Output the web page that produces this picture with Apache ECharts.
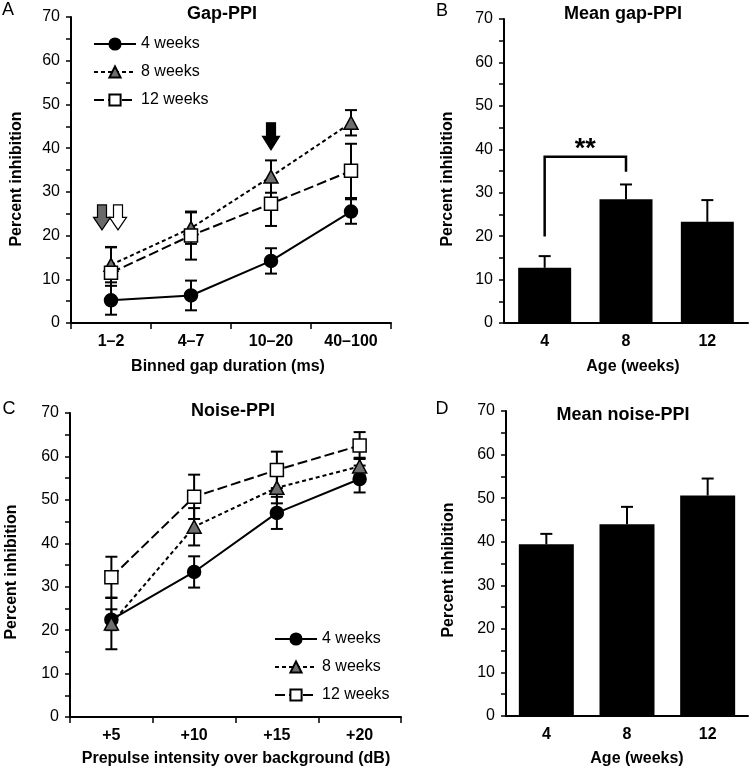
<!DOCTYPE html>
<html><head><meta charset="utf-8">
<script src="https://cdn.jsdelivr.net/npm/echarts@6/dist/echarts.min.js"></script>
<style>html,body{margin:0;padding:0;background:#fff}#c{width:752px;height:772px}</style>
</head><body><div id="c"></div>
<script>
// ---------- data ----------
const gapBins = ['1–2', '4–7', '10–20', '40–100'];
const noiseLevels = ['+5', '+10', '+15', '+20'];
const ages = ['4', '8', '12'];
const groupNames = ['4 weeks', '8 weeks', '12 weeks'];
const yTicks = [0, 10, 20, 30, 40, 50, 60, 70];

const gap4 = [5.2, 6.3, 14.2, 25.5];
const gap4Err = [3.3, 3.4, 2.9, 2.8];
const gap8 = [13.3, 21.7, 33.5, 45.8];
const gap8Err = [4.0, 3.6, 3.7, 2.9];
const gap12 = [11.5, 20.0, 27.3, 34.8];
const gap12Err = [5.9, 5.5, 5.1, 6.2];

const noise4 = [22.4, 33.4, 47.0, 54.8];
const noise4Err = [2.4, 3.6, 3.7, 3.1];
const noise8 = [21.5, 43.8, 52.8, 57.7];
const noise8Err = [5.9, 4.3, 3.6, 2.0];
const noise12 = [32.2, 50.7, 56.9, 62.5];
const noise12Err = [4.7, 5.1, 4.2, 3.1];

const meanGap = [12.7, 28.5, 23.3];
const meanGapErr = [2.7, 3.4, 5.0];
const meanNoise = [39.4, 44.0, 50.6];
const meanNoiseErr = [2.4, 4.0, 3.9];

// annotation arrows in panel A: bin index, top value, bottom value
const arrowBins = [0, 0, 2];
const arrowTop = [27.0, 27.0, 45.8];
const arrowBottom = [21.3, 21.3, 39.6];
// significance bracket in panel B: from bar, to bar, left foot, top, right foot
const sigFrom = 0, sigTo = 1;
const sigValues = [19.9, 38.3, 34.8];
const sigLabel = '**';

// ---------- styles ----------
const FONT = '"Liberation Sans", Arial, sans-serif';
const arrowStyles = [
  {fill: '#6a6a6a', dx: -9},
  {fill: '#ffffff', dx: 7},
  {fill: '#000000', dx: 0}
];
const groupStyles = [
  {symbol: 'circle', size: 13, fill: '#000', border: '#000', dash: 'solid'},
  {symbol: 'triangle', size: [14, 13], fill: '#6e6e6e', border: '#000', dash: [4, 3]},
  {symbol: 'rect', size: 13, fill: '#fff', border: '#000', dash: [10, 4]}
];

const grids = [
  {left: 71, top: 17, width: 320, height: 306},
  {left: 504, top: 19, width: 244, height: 304},
  {left: 70, top: 413, width: 331, height: 304},
  {left: 506, top: 411, width: 242, height: 305}
];

function yAxis(gi) {
  return {
    type: 'value', gridIndex: gi, min: yTicks[0], max: yTicks[yTicks.length - 1],
    interval: yTicks[1] - yTicks[0],
    axisLine: {show: true, lineStyle: {color: '#000', width: 2}},
    axisTick: {show: true, length: 5, lineStyle: {color: '#000', width: 1.5}},
    minorTick: {show: true, splitNumber: 2, length: 5, lineStyle: {color: '#000', width: 1.5}},
    splitLine: {show: false},
    axisLabel: {color: '#000', fontSize: 16, fontFamily: FONT, margin: 11}
  };
}
function xAxis(gi, cats, ticks) {
  return {
    type: 'category', gridIndex: gi, data: cats, boundaryGap: true,
    axisLine: {show: true, lineStyle: {color: '#000', width: 2}},
    axisTick: {show: ticks, length: 6, lineStyle: {color: '#000', width: 1.5}},
    axisLabel: {color: '#000', fontSize: 16, fontWeight: 'bold', fontFamily: FONT, margin: 11},
    splitLine: {show: false}
  };
}

function errRender(upOnly, cap) {
  return function (params, api) {
    const x = api.value(0), m = api.value(1), e = api.value(2);
    const t = api.coord([x, m + e]);
    const b = api.coord([x, upOnly ? m : m - e]);
    const st = {stroke: '#000', lineWidth: 2};
    const ch = [
      {type: 'line', shape: {x1: t[0], y1: t[1], x2: b[0], y2: b[1]}, style: st},
      {type: 'line', shape: {x1: t[0] - cap / 2, y1: t[1], x2: t[0] + cap / 2, y2: t[1]}, style: st}
    ];
    if (!upOnly) ch.push({type: 'line', shape: {x1: b[0] - cap / 2, y1: b[1], x2: b[0] + cap / 2, y2: b[1]}, style: st});
    return {type: 'group', children: ch};
  };
}

function errSeries(gi, means, errs, upOnly, cap, z) {
  return {
    type: 'custom', xAxisIndex: gi, yAxisIndex: gi, z: z, silent: true,
    renderItem: errRender(upOnly, cap),
    encode: {x: 0, y: 1},
    data: means.map((m, i) => [i, m, errs[i]])
  };
}

function lineSeries(gi, gIdx, means) {
  const s = groupStyles[gIdx];
  return {
    type: 'line', name: groupNames[gIdx], xAxisIndex: gi, yAxisIndex: gi, z: 5,
    data: means, symbol: s.symbol, symbolSize: s.size, showSymbol: true,
    lineStyle: {color: '#000', width: 2, type: s.dash},
    itemStyle: {color: s.fill, borderColor: s.border, borderWidth: 1.5, opacity: 1},
    emphasis: {disabled: true}
  };
}

const series = [];
[gap4, gap8, gap12].forEach((d, k) => {
  series.push(errSeries(0, d, [gap4Err, gap8Err, gap12Err][k], false, 12, 3));
  series.push(lineSeries(0, k, d));
});
[noise4, noise8, noise12].forEach((d, k) => {
  series.push(errSeries(2, d, [noise4Err, noise8Err, noise12Err][k], false, 12, 3));
  const ls = lineSeries(2, k, d);
  ls.name = groupNames[k] + ' ';
  series.push(ls);
});
// bars
series.push({type: 'bar', xAxisIndex: 1, yAxisIndex: 1, data: meanGap, barWidth: 53,
  itemStyle: {color: '#000'}, z: 2, emphasis: {disabled: true}});
series.push(errSeries(1, meanGap, meanGapErr, true, 12, 3));
series.push({type: 'bar', xAxisIndex: 3, yAxisIndex: 3, data: meanNoise, barWidth: 55,
  itemStyle: {color: '#000'}, z: 2, emphasis: {disabled: true}});
series.push(errSeries(3, meanNoise, meanNoiseErr, true, 12, 3));

// arrows
series.push({
  type: 'custom', xAxisIndex: 0, yAxisIndex: 0, z: 6, silent: true,
  encode: {x: 0, y: 1},
  data: arrowBins.map((b, i) => [b, arrowTop[i], arrowBottom[i], i]),
  renderItem: function (params, api) {
    const i = api.value(3);
    const st = arrowStyles[i];
    const t = api.coord([api.value(0), api.value(1)]);
    const b = api.coord([api.value(0), api.value(2)]);
    const cx = t[0] + st.dx;
    const hw = 4.5, hh = 8.5;
    const yMid = t[1] + (b[1] - t[1]) * 0.5;
    return {
      type: 'polygon',
      shape: {points: [[cx - hw, t[1]], [cx + hw, t[1]], [cx + hw, yMid], [cx + hh, yMid], [cx, b[1]], [cx - hh, yMid], [cx - hw, yMid]]},
      style: {fill: st.fill, stroke: '#000', lineWidth: 1.2}
    };
  }
});
// significance bracket
series.push({
  type: 'custom', xAxisIndex: 1, yAxisIndex: 1, z: 6, silent: true,
  encode: {x: 0, y: 1},
  data: [[sigFrom, sigValues[0], sigTo, sigValues[1], sigValues[2]]],
  renderItem: function (params, api) {
    const p0 = api.coord([api.value(0), api.value(1)]);
    const p1 = api.coord([api.value(0), api.value(3)]);
    const p2 = api.coord([api.value(2), api.value(3)]);
    const p3 = api.coord([api.value(2), api.value(4)]);
    return {
      type: 'group', children: [
        {type: 'polyline', shape: {points: [p0, p1, p2, p3]}, style: {stroke: '#000', lineWidth: 2.5, fill: null}},
        {type: 'text', style: {text: sigLabel, x: (p1[0] + p2[0]) / 2, y: p1[1] - 7, align: 'center', verticalAlign: 'middle',
          font: 'bold 27px ' + FONT, fill: '#000'}}
      ]
    };
  }
});

function txt(text, x, y, size, bold, rot) {
  return {type: 'text', x: x, y: y, rotation: rot || 0,
    style: {text: text, align: 'center', verticalAlign: 'middle', font: (bold ? 'bold ' : '') + size + 'px ' + FONT, fill: '#000'}};
}

const option = {
  animation: false,
  backgroundColor: '#fff',
  grid: grids,
  xAxis: [xAxis(0, gapBins, true), xAxis(1, ages, false), xAxis(2, noiseLevels, true), xAxis(3, ages, false)],
  yAxis: [yAxis(0), yAxis(1), yAxis(2), yAxis(3)],
  legend: [
    {data: groupNames, orient: 'vertical', left: 93, top: 36, padding: 0, itemWidth: 42, itemHeight: 14, itemGap: 12,
      textStyle: {fontSize: 16, color: '#000', fontFamily: FONT}, selectedMode: false},
    {data: groupNames.map(n => n + ' '), orient: 'vertical', left: 274, top: 631, padding: 0, itemWidth: 42, itemHeight: 14, itemGap: 12,
      textStyle: {fontSize: 16, color: '#000', fontFamily: FONT}, selectedMode: false,
      formatter: n => n.trim()}
  ],
  series: series,
  graphic: [
    txt('A', 8, 10, 18, false), txt('B', 442, 11, 18, false), txt('C', 9, 409, 18, false), txt('D', 442, 409, 18, false),
    txt('Gap-PPI', 222, 14, 18, true), txt('Mean gap-PPI', 623, 14, 18, true),
    txt('Noise-PPI', 233, 411, 18, true), txt('Mean noise-PPI', 623, 415, 18, true),
    txt('Percent inhibition', 17, 179, 16, true, Math.PI / 2),
    txt('Percent inhibition', 448, 179, 16, true, Math.PI / 2),
    txt('Percent inhibition', 12, 572, 16, true, Math.PI / 2),
    txt('Percent inhibition', 449, 570, 16, true, Math.PI / 2),
    txt('Binned gap duration (ms)', 228, 367, 16, true),
    txt('Age (weeks)', 633, 367, 16, true),
    txt('Prepulse intensity over background (dB)', 236, 759, 16, true),
    txt('Age (weeks)', 637, 759, 16, true)
  ]
};
const chart = echarts.init(document.getElementById('c'), null, {renderer: 'canvas'});
chart.setOption(option);
</script></body></html>
